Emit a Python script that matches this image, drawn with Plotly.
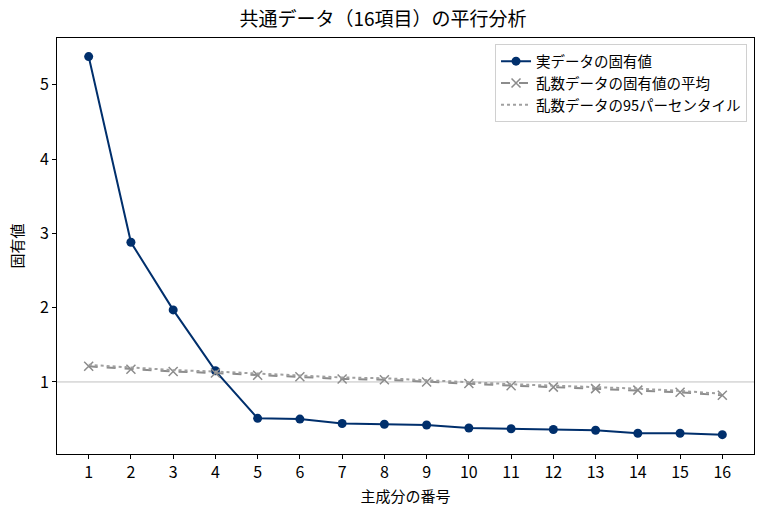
import plotly.graph_objects as go

# 平行分析の結果
components = list(range(1, 17))
real_eigen = [5.38, 2.88, 1.97, 1.15, 0.51, 0.50, 0.44, 0.43, 0.42, 0.38, 0.37, 0.36, 0.35, 0.31, 0.31, 0.29]
rand_mean = [1.21, 1.17, 1.14, 1.12, 1.09, 1.07, 1.04, 1.03, 1.00, 0.98, 0.95, 0.93, 0.91, 0.89, 0.86, 0.82]
rand_p95 = [1.23, 1.19, 1.16, 1.14, 1.11, 1.09, 1.06, 1.05, 1.02, 1.00, 0.97, 0.95, 0.93, 0.91, 0.88, 0.84]

font = "Noto Sans CJK JP"

fig = go.Figure()

fig.add_trace(go.Scatter(
    x=components, y=real_eigen, mode="lines+markers",
    name="実データの固有値",
    line=dict(color="#002f6c", width=2),
    marker=dict(symbol="circle", size=9, color="#002f6c"),
))
fig.add_trace(go.Scatter(
    x=components, y=rand_mean, mode="lines+markers",
    name="乱数データの固有値の平均",
    line=dict(color="#8c8c8c", width=2, dash="dash"),
    marker=dict(symbol="x-thin", size=9, color="#8c8c8c", line=dict(color="#8c8c8c", width=1.5)),
))
fig.add_trace(go.Scatter(
    x=components, y=rand_p95, mode="lines",
    name="乱数データの95パーセンタイル",
    line=dict(color="#a0a0a0", width=2, dash="dot"),
))

# 固有値 = 1 の基準線
fig.add_hline(y=1, line=dict(color="#c0c0c0", width=1), layer="below")

fig.update_layout(
    width=766, height=516,
    margin=dict(l=57, r=12, t=38, b=62, autoexpand=False),
    paper_bgcolor="white", plot_bgcolor="white",
    font=dict(family=font, size=16, color="black"),
    title=dict(text="共通データ（16項目）の平行分析", x=0.5, xanchor="center",
               yref="container", y=1 - 19 / 516, yanchor="middle", font=dict(size=19)),
    legend=dict(x=0.99, y=0.985, xanchor="right", yanchor="top",
                bgcolor="rgba(255,255,255,0.8)", bordercolor="#d0d0d0", borderwidth=1,
                font=dict(size=14.5), tracegroupgap=0),
    showlegend=True,
)
fig.update_xaxes(
    range=[0.25, 16.75], tickvals=components, ticks="outside", ticklen=4,
    tickcolor="black", showgrid=False, zeroline=False, automargin=False,
    showline=True, linecolor="black", linewidth=1, mirror=True,
    title=dict(text="主成分の番号", font=dict(size=15), standoff=9),
)
fig.update_yaxes(
    range=[0.03, 5.63], tickvals=[1, 2, 3, 4, 5], ticks="outside", ticklen=4,
    tickcolor="black", showgrid=False, zeroline=False, automargin=False,
    showline=True, linecolor="black", linewidth=1, mirror=True,
    title=dict(text="固有値", font=dict(size=15), standoff=12),
)

# ページ既定の余白（8px）を消して、図を左上に合わせる
fig.write_html("out.html", config={"displayModeBar": False},
               post_script="document.body.style.margin='0';")
